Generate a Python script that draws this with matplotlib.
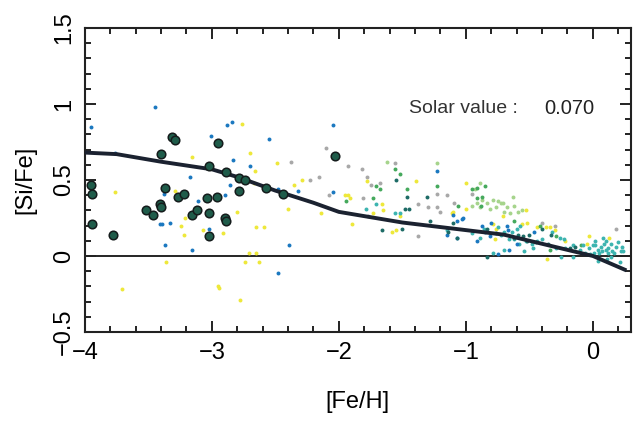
"""
[Si/Fe] versus [Fe/H] with model curve and solar value
"""

import matplotlib

matplotlib.use("Agg")
import matplotlib.pyplot as plt
from matplotlib.ticker import MultipleLocator

plt.rcParams["font.family"] = ["Liberation Sans", "DejaVu Sans"]

# big circles (very metal poor stars)
big_feh = [-3.95, -3.94, -3.94, -3.78, -3.52, -3.46, -3.41, -3.40, -3.40, -3.37,
           -3.31, -3.29, -3.27, -3.22, -3.16, -3.12, -3.04, -3.02, -3.02, -3.02,
           -2.96, -2.95, -2.90, -2.89, -2.89, -2.79, -2.74, -2.79, -2.57, -2.44,
           -2.03]
big_sife = [0.47, 0.41, 0.21, 0.14, 0.30, 0.27, 0.34, 0.32, 0.67, 0.45,
            0.78, 0.76, 0.39, 0.41, 0.27, 0.30, 0.38, 0.59, 0.28, 0.13,
            0.39, 0.74, 0.25, 0.23, 0.55, 0.51, 0.50, 0.43, 0.45, 0.41,
            0.66]

# small dots, one pair of lists per colour
blue_feh = [-3.45, -3.95, -3.76, -3.01, -3.17, -3.38, -3.11, -3.41, -3.39, -3.33,
            -3.37, -3.16, -3.02, -2.88, -2.84, -2.55, -2.83, -2.70, -2.05, -2.86,
            -2.90, -2.32, -2.05, -2.48, -2.39, -2.48, -1.23, -1.10, -1.07, -1.03,
            -1.02, -1.15, -1.07, -0.91, -0.85, -0.75, -0.68, -0.67, -0.46, -0.80,
            -0.87, -0.81, -0.76, -0.60, -0.66]
blue_sife = [0.98, 0.85, 0.68, 0.79, 0.52, 0.41, 0.36, 0.21, 0.21, 0.22,
             0.07, 0.04, 0.18, 0.86, 0.88, 0.77, 0.63, 0.59, 0.86, 0.47,
             0.40, 0.43, 0.42, 0.44, 0.07, -0.11, 0.56, 0.27, 0.23, 0.24,
             0.25, 0.14, 0.12, 0.10, 0.16, 0.01, 0.20, 0.17, 0.16, 0.22,
             0.20, 0.13, 0.15, 0.08, 0.04]

dark_feh = [-1.55, -1.66, -1.50, -1.48, -1.45, -1.46, -1.31, -1.28, -1.10, -1.14,
            -1.07, -0.83, -0.83, -0.59, -0.55, -0.50, -0.40, -0.33, -0.52, -0.35,
            -0.18, -0.14, -0.62, -0.45]
dark_sife = [0.50, 0.17, 0.18, 0.31, 0.31, 0.39, 0.39, 0.23, 0.22, 0.16,
             0.12, 0.18, -0.01, 0.14, 0.13, 0.14, 0.18, 0.14, 0.10, 0.08,
             0.05, 0.06, 0.12, 0.09]

teal_feh = [-1.79, -1.71, -1.56, -1.52, -1.15, -0.89, -0.79, -0.70, -0.64, -0.32,
            -0.26, -0.23, -0.62, -0.66, -0.58, -0.53, -0.48, -0.44, -0.40, -0.47,
            -0.70, -0.54, -0.29, -0.22, -0.16, -0.10, -0.25, -0.16, 0.00, 0.02,
            0.04, 0.06, 0.09, 0.05, 0.07, 0.10, 0.12, 0.15, 0.17, 0.22,
            0.10, 0.12, 0.02, 0.14, 0.01, -0.02, -0.06, 0.14, 0.04, 0.21,
            0.24, -0.03, 0.08, 0.18, 0.20, -0.08, 0.11, 0.23, -0.95, -0.86,
            -0.75, -0.72, -0.60, -0.57]
teal_sife = [0.31, 0.34, 0.28, 0.28, 0.17, 0.12, 0.02, 0.16, 0.16, 0.16,
             0.12, 0.11, 0.11, 0.11, 0.08, 0.10, 0.08, 0.10, 0.11, 0.05,
             0.04, 0.03, 0.05, 0.05, 0.07, 0.04, -0.01, -0.01, 0.07, 0.07,
             0.04, 0.06, 0.08, 0.02, 0.03, 0.04, 0.05, 0.03, 0.02, 0.03,
             0.10, 0.02, 0.10, 0.08, 0.02, 0.01, 0.02, -0.01, -0.03, -0.04,
             0.03, 0.05, 0.12, 0.06, 0.09, 0.07, -0.02, 0.06, 0.15, 0.18,
             0.19, 0.14, 0.18, 0.20]

green_feh = [-1.56, -1.52, -1.71, -1.94, -1.73, -1.68, -1.46, -1.23, -1.06, -0.95,
             -0.91, -0.91, -0.88, -0.87, -0.85, -0.62, -0.42, -0.29, -0.34, -0.09]
green_sife = [0.57, 0.54, 0.46, 0.36, 0.38, 0.44, 0.44, 0.46, 0.33, 0.44,
              0.45, 0.38, 0.33, 0.39, 0.46, 0.23, 0.20, 0.13, 0.04, 0.07]

lgreen_feh = [-0.95, -0.91, -0.87, -0.83, -0.79, -0.75, -0.72, -0.89, -0.81, -0.76,
              -0.71, -0.68, -0.63, -0.62, -0.59, -0.56, -0.65, -0.70, -0.93, -0.89,
              -1.62, -1.23]
lgreen_sife = [0.33, 0.35, 0.37, 0.35, 0.37, 0.36, 0.35, 0.32, 0.31, 0.32,
               0.35, 0.32, 0.39, 0.33, 0.29, 0.30, 0.28, 0.29, 0.44, 0.48,
               0.62, 0.61]

gray_feh = [-2.38, -2.23, -2.16, -2.10, -1.93, -2.08, -1.82, -1.56, -1.78, -1.75,
            -1.68, -1.81, -1.77, -1.38, -1.23, -1.23, -1.30, -1.38, -1.15, -1.20,
            -1.09, -0.95, -0.40, -0.30, 0.18]
gray_sife = [0.62, 0.50, 0.52, 0.71, 0.59, 0.40, 0.57, 0.61, 0.52, 0.47,
             0.48, 0.38, 0.26, 0.34, 0.41, 0.32, 0.32, 0.13, 0.40, 0.29,
             0.35, 0.41, 0.22, 0.20, 0.18]

yellow_feh = [-3.16, -3.76, -3.29, -2.76, -2.70, -2.49, -2.35, -2.29, -2.40, -3.24,
              -3.21, -3.22, -3.07, -3.36, -3.71, -2.94, -2.80, -2.65, -2.59, -2.91,
              -2.14, -2.71, -2.65, -2.74, -2.63, -2.95, -2.78, -2.66, -1.95, -2.67,
              -1.78, -1.93, -1.91, -1.66, -1.65, -1.73, -1.90, -1.58, -1.55, -1.52,
              -1.39, -1.11, -1.00, -1.00, -1.10, -0.79, -0.76, -0.77, -0.71, -0.52,
              -0.56, -0.44, -0.37, -0.34, -0.30, -0.05, -0.03, -0.36, -0.53, -0.22,
              0.13]
yellow_sife = [0.65, 0.42, 0.43, 0.87, 0.68, 0.61, 0.47, 0.50, 0.31, 0.20,
               0.25, 0.14, 0.17, -0.04, -0.22, -0.21, 0.29, 0.19, 0.19, 0.15,
               0.28, 0.02, 0.02, -0.04, -0.04, -0.20, -0.29, 0.56, 0.40, 0.48,
               0.49, 0.40, 0.38, 0.34, 0.30, 0.28, 0.21, 0.16, 0.17, 0.26,
               0.49, 0.28, 0.48, 0.31, 0.29, 0.21, 0.18, 0.11, 0.26, 0.22,
               0.21, 0.19, 0.19, 0.19, 0.17, 0.08, 0.13, -0.02, 0.30, 0.10,
               0.12]

# model curve
model_feh = [-4.0, -3.75, -3.4, -3.0, -2.8, -2.5, -2.2, -2.0, -1.5, -1.0,
             -0.7, -0.5, -0.3, 0.0, 0.25]
model_sife = [0.68, 0.67, 0.62, 0.57, 0.52, 0.43, 0.35, 0.29, 0.22, 0.17,
              0.14, 0.10, 0.06, 0.0, -0.09]

SOLAR_VALUE = "0.070"


def plot_si_fe():
    """draw [Si/Fe] against [Fe/H]"""
    fig, ax = plt.subplots(figsize=(6.38, 4.30), dpi=100)
    fig.subplots_adjust(left=0.133, right=0.989, top=0.935, bottom=0.228)

    ax.axhline(0, color="black", lw=1.2, zorder=1)

    dot = 8
    ax.scatter(gray_feh, gray_sife, s=dot, color="#a8a8a8", lw=0, zorder=2)
    ax.scatter(lgreen_feh, lgreen_sife, s=dot, color="#a6d48c", lw=0, zorder=2)
    ax.scatter(yellow_feh, yellow_sife, s=dot, color="#eee83a", lw=0, zorder=2)
    ax.scatter(green_feh, green_sife, s=dot, color="#45a95c", lw=0, zorder=2)
    ax.scatter(teal_feh, teal_sife, s=dot, color="#3cb4b0", lw=0, zorder=2)
    ax.scatter(blue_feh, blue_sife, s=dot, color="#1b78c0", lw=0, zorder=2)
    ax.scatter(dark_feh, dark_sife, s=dot, color="#1d6b66", lw=0, zorder=2)

    ax.plot(model_feh, model_sife, color="#1b2230", lw=2.8, zorder=3)

    ax.scatter(big_feh, big_sife, s=38, color="#1f5c4a", edgecolor="#151c1c",
               lw=1.1, zorder=4)

    ax.text(-1.45, 0.97, "Solar value :", fontsize=14, color="#333333",
            va="center", ha="left")
    ax.text(-0.38, 0.97, SOLAR_VALUE, fontsize=14.5, color="#222222",
            va="center", ha="left")

    ax.set_xlim(-4, 0.3)
    ax.set_ylim(-0.5, 1.5)
    ax.xaxis.set_major_locator(MultipleLocator(1))
    ax.xaxis.set_minor_locator(MultipleLocator(0.2))
    ax.yaxis.set_major_locator(MultipleLocator(0.5))
    ax.yaxis.set_minor_locator(MultipleLocator(0.1))
    ax.set_xticks([-4, -3, -2, -1, 0])
    ax.set_xticklabels(["\u22124", "\u22123", "\u22122", "\u22121", "0"])
    ax.set_yticks([-0.5, 0, 0.5, 1, 1.5])
    ax.set_yticklabels(["\u22120.5", "0", "0.5", "1", "1.5"], rotation=90,
                       va="center")

    ax.tick_params(which="both", direction="in", top=True, right=True,
                   labelsize=17, width=1.4, color="#222222")
    ax.tick_params(which="major", length=8, pad=7)
    ax.tick_params(which="minor", length=4.5)
    for spine in ax.spines.values():
        spine.set_linewidth(1.5)
        spine.set_color("#222222")

    ax.set_xlabel("[Fe/H]", fontsize=17, labelpad=20)
    ax.set_ylabel("[Si/Fe]", fontsize=17, labelpad=12)

    fig.savefig("out.png", dpi=100)


if __name__ == "__main__":
    plot_si_fe()
